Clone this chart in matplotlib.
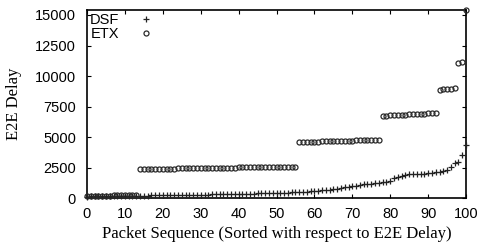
import numpy as np
import matplotlib
matplotlib.use("Agg")
import matplotlib.pyplot as plt

# packet index 0..100, sorted by delay
seq = list(range(101))

dsf = [150, 160, 165, 170, 175, 180, 185, 190, 195, 200, 205, 210, 215, 220,
       230, 235, 240, 245, 250, 255, 260, 265, 270, 275, 280, 285, 290, 295, 300, 300, 305, 310, 315,
       340, 345, 350, 355, 360, 365, 370, 375, 380, 385, 390, 400, 405, 410, 420,
       425, 435, 445, 455, 465, 475, 490, 500,
       520, 540, 560, 590, 620, 640, 670, 700, 730, 760,
       800, 850, 900, 950, 980, 1020, 1080, 1150,
       1170, 1200, 1240, 1280, 1320, 1380, 1430,
       1650, 1760, 1840, 1920,
       1980, 2000, 2010, 2020, 2030, 2040, 2060,
       2150, 2200, 2260, 2330, 2600,
       2930, 2950, 3560, 4350]

etx = [220, 225, 230, 232, 235, 238, 240, 242, 245, 248, 250, 252, 255, 260,
       2400, 2405, 2410, 2415, 2420, 2425, 2430, 2435, 2440, 2445, 2450, 2455, 2460, 2465,
       2470, 2475, 2480, 2485, 2490, 2495, 2500, 2505, 2510, 2515, 2520, 2525, 2530, 2535,
       2540, 2545, 2550, 2555, 2560, 2565, 2570, 2575, 2580, 2585, 2590, 2592, 2595, 2600,
       4600, 4610, 4620, 4630, 4640, 4650, 4660, 4670, 4680, 4690, 4700,
       4705, 4710, 4720, 4730, 4740, 4750, 4760, 4770, 4780, 4790, 4800,
       6750, 6770, 6790, 6800, 6820, 6840, 6850, 6870, 6890, 6900, 6920, 6940, 6960, 6980, 7000,
       8900, 8920, 8950, 8980, 9000,
       11100, 11120,
       15400]

xticks = [0, 10, 20, 30, 40, 50, 60, 70, 80, 90, 100]
yticks = [0, 2500, 5000, 7500, 10000, 12500, 15000]

fig = plt.figure(figsize=(4.78, 2.45), dpi=100)
ax = fig.add_axes([0.182, 0.19, 0.793, 0.769])

ax.plot(seq, dsf, linestyle='none', marker='+', markersize=5, markeredgewidth=0.9,
        color='#222222', label='DSF', clip_on=False)
ax.plot(seq, etx, linestyle='none', marker='o', markersize=3.6, markeredgewidth=0.9,
        markerfacecolor='none', markeredgecolor='#2a2a2a', label='ETX', clip_on=False)

ax.set_xlim(0, 100)
ax.set_ylim(0, 15400)
ax.set_xticks(xticks)
ax.set_yticks(yticks)

tick_font = {'family': 'Liberation Sans', 'size': 10.5}
ax.set_xticklabels([str(t) for t in xticks], **tick_font)
ax.set_yticklabels([str(t) for t in yticks], **tick_font)
ax.tick_params(direction='in', length=3, width=0.8, top=True, right=True, pad=6)
ax.tick_params(axis='y', pad=8)
for s in ax.spines.values():
    s.set_linewidth(1.2)
    s.set_zorder(0)

ax.set_xlabel('Packet Sequence (Sorted with respect to E2E Delay)',
              family='Liberation Serif', size=12, labelpad=4)
ax.set_ylabel('E2E Delay', family='Liberation Serif', size=12, labelpad=9)

leg = ax.legend(loc='upper left', frameon=False, markerfirst=False,
                prop={'family': 'Liberation Sans', 'size': 10.5},
                borderaxespad=0.0, handletextpad=1.3, labelspacing=0.0,
                handlelength=1.0, borderpad=0.2)

fig.savefig('out.png', dpi=100)
